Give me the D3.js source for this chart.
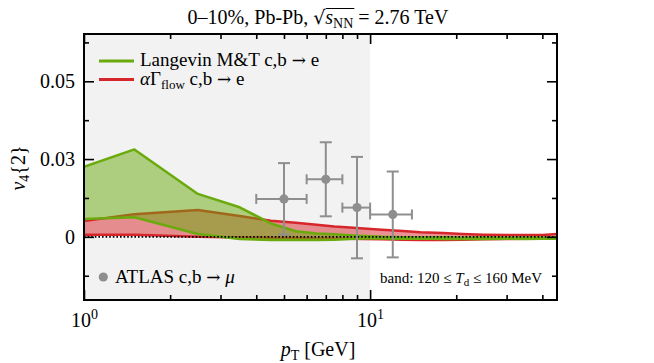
<!DOCTYPE html>
<html>
<head>
<meta charset="utf-8">
<script src="https://cdn.jsdelivr.net/npm/d3@7"></script>
<style>
  body { margin: 0; background: #fff; }
  svg { display: block; font-family: "Liberation Serif", serif; }
</style>
</head>
<body>
<svg width="654" height="363"></svg>
<script>
// model curves, pT grid in GeV
let ptGrid = [1, 1.5, 2.5, 3.5, 4.5, 5.5, 6.5, 7.5, 8.5, 9.5, 11, 13, 15, 18, 21, 25, 30, 35, 40, 45];
let langevinHigh = [0.0225, 0.0281, 0.0138, 0.0095, 0.0043, 0.0018, 0.0011, 0.0008, 0.0005, 0.0003, 0.0000, -0.0001, -0.0002, -0.0001, -0.0003, -0.0002, -0.0003, -0.0002, -0.0003, -0.0002];
let langevinLow = [0.0057, 0.0063, 0.0009, -0.0007, -0.0010, -0.0010, -0.0010, -0.0009, -0.0007, -0.0005, -0.0005, -0.0006, -0.0005, -0.0007, -0.0006, -0.0007, -0.0006, -0.0007, -0.0006, -0.0006];
let flowHigh = [0.0051, 0.0073, 0.0086, 0.0067, 0.0052, 0.0045, 0.0039, 0.0033, 0.0030, 0.0027, 0.0023, 0.0019, 0.0015, 0.0012, 0.0009, 0.0007, 0.0006, 0.0006, 0.0006, 0.0009];
let flowLow = [0.0007, 0.0007, 0.0000, -0.0002, -0.0003, -0.0004, -0.0005, -0.0005, -0.0006, -0.0007, -0.0008, -0.0009, -0.0010, -0.0010, -0.0009, -0.0008, -0.0007, -0.0006, -0.0005, -0.0005];

// ATLAS c,b -> mu
let atlasPt = [5, 7, 9, 12];
let atlasPtLow = [4, 6, 8, 10];
let atlasPtHigh = [6, 8, 10, 14];
let atlasV4 = [0.0122, 0.0185, 0.0094, 0.0072];
let atlasErr = [0.0115, 0.0119, 0.0163, 0.0138];

// ticks
let yMajorTicks = [0, 0.025, 0.05];
let yTickLabels = ["0", "0.03", "0.05"];
let yMinorTicks = [-0.0125, 0.0125, 0.0375, 0.0625];
let xMajorTicks = [1, 10];
let xTickExponents = ["0", "1"];
let xMinorTicks = [2, 3, 4, 5, 6, 7, 8, 9, 20, 30, 40];

let green = "#6aaa0c";
let red = "#d7262b";
let grey = "#8e8e8e";

let svg = d3.select("svg");
let pLeft = 84, pRight = 557, pTop = 34, pBottom = 300;

let x = d3.scaleLog().domain([1, 45]).range([pLeft, pRight]);
let y = d3.scaleLinear().domain([-0.0203, 0.0652]).range([pBottom, pTop]);

svg.append("defs").append("clipPath").attr("id", "plotclip")
  .append("rect")
  .attr("x", pLeft).attr("y", pTop)
  .attr("width", pRight - pLeft).attr("height", pBottom - pTop);

// shaded low pT region
svg.append("rect")
  .attr("x", x(1)).attr("y", pTop)
  .attr("width", x(10) - x(1)).attr("height", pBottom - pTop)
  .attr("fill", "#f2f2f2");

let plot = svg.append("g").attr("clip-path", "url(#plotclip)");

let band = (hi, lo) => d3.area()
  .x((d, i) => x(ptGrid[i]))
  .y0((d, i) => y(lo[i]))
  .y1((d, i) => y(hi[i]));
let edge = vals => d3.line()
  .x((d, i) => x(ptGrid[i]))
  .y((d, i) => y(vals[i]));

function drawBand(hi, lo, color) {
  plot.append("path")
    .attr("d", band(hi, lo)(ptGrid))
    .attr("fill", color)
    .attr("fill-opacity", 0.5);
  [hi, lo].forEach(v => {
    plot.append("path")
      .attr("d", edge(v)(ptGrid))
      .attr("fill", "none")
      .attr("stroke", color)
      .attr("stroke-width", 2.5)
      .attr("stroke-linejoin", "round");
  });
}
drawBand(flowHigh, flowLow, red);
drawBand(langevinHigh, langevinLow, green);

// zero line
plot.append("line")
  .attr("x1", pLeft).attr("x2", pRight)
  .attr("y1", y(0)).attr("y2", y(0))
  .attr("stroke", "#000")
  .attr("stroke-width", 1.6)
  .attr("stroke-dasharray", "1.6,2");

// ATLAS points
let pts = plot.selectAll("g.atlas")
  .data(atlasPt.map((p, i) => ({ p: p, lo: atlasPtLow[i], hi: atlasPtHigh[i], v: atlasV4[i], e: atlasErr[i] })))
  .enter().append("g")
  .attr("stroke", grey)
  .attr("stroke-width", 2);
pts.append("line")
  .attr("x1", d => x(d.lo)).attr("x2", d => x(d.hi))
  .attr("y1", d => y(d.v)).attr("y2", d => y(d.v));
pts.append("line")
  .attr("x1", d => x(d.p)).attr("x2", d => x(d.p))
  .attr("y1", d => y(d.v - d.e)).attr("y2", d => y(d.v + d.e));
[-1, 1].forEach(s => {
  pts.append("line")
    .attr("x1", d => x(d.p) - 6).attr("x2", d => x(d.p) + 6)
    .attr("y1", d => y(d.v + s * d.e)).attr("y2", d => y(d.v + s * d.e));
});
pts.append("line")
  .attr("x1", d => x(d.lo)).attr("x2", d => x(d.lo))
  .attr("y1", d => y(d.v) - 5).attr("y2", d => y(d.v) + 5);
pts.append("line")
  .attr("x1", d => x(d.hi)).attr("x2", d => x(d.hi))
  .attr("y1", d => y(d.v) - 5).attr("y2", d => y(d.v) + 5);
pts.append("circle")
  .attr("cx", d => x(d.p)).attr("cy", d => y(d.v))
  .attr("r", 4.6)
  .attr("fill", grey)
  .attr("stroke", "none");

// axes, ticks pointing inward
function addAxis(axis, tr, vals, size, fmt) {
  let g = svg.append("g")
    .attr("transform", tr)
    .call(axis.tickValues(vals).tickSizeInner(-size).tickSizeOuter(0).tickFormat(fmt));
  g.select(".domain").remove();
  g.attr("font-family", "Liberation Serif").attr("font-size", 20);
  g.selectAll("line").attr("stroke", "#000").attr("stroke-width", 1.6);
  g.selectAll("text").attr("fill", "#000");
  return g;
}
let none = () => "";
let xb = addAxis(d3.axisBottom(x).tickPadding(13), `translate(0,${pBottom})`, xMajorTicks, 10, none);
addAxis(d3.axisBottom(x), `translate(0,${pBottom})`, xMinorTicks, 5, none);
addAxis(d3.axisTop(x), `translate(0,${pTop})`, xMajorTicks, 10, none);
addAxis(d3.axisTop(x), `translate(0,${pTop})`, xMinorTicks, 5, none);
addAxis(d3.axisLeft(y).tickPadding(9), `translate(${pLeft},0)`, yMajorTicks, 10, (d, i) => yTickLabels[i]);
addAxis(d3.axisLeft(y), `translate(${pLeft},0)`, yMinorTicks, 5, none);
addAxis(d3.axisRight(y), `translate(${pRight},0)`, yMajorTicks, 10, none);
addAxis(d3.axisRight(y), `translate(${pRight},0)`, yMinorTicks, 5, none);

xb.selectAll("text").each(function (d, i) {
  let t = d3.select(this);
  t.append("tspan").text("10");
  t.append("tspan").attr("dy", -8).attr("font-size", 14).text(xTickExponents[i]);
});

// frame
svg.append("rect")
  .attr("x", pLeft).attr("y", pTop)
  .attr("width", pRight - pLeft).attr("height", pBottom - pTop)
  .attr("fill", "none")
  .attr("stroke", "#000")
  .attr("stroke-width", 2);

// title
let title = svg.append("text")
  .attr("x", 318).attr("y", 24)
  .attr("text-anchor", "middle")
  .attr("font-size", 20);
title.append("tspan").text("0–10%, Pb-Pb, ");
let rad = title.append("tspan").attr("font-family", "DejaVu Serif").attr("font-size", 19).text("√");
title.append("tspan").attr("font-style", "italic").text("s");
let nn = title.append("tspan").attr("font-size", 14).attr("dy", 4).text("NN");
title.append("tspan").attr("dy", -4).text(" = 2.76 TeV");
let rb = rad.node().getBBox(), nb = nn.node().getBBox();
svg.append("line")
  .attr("x1", rb.x + rb.width - 0.5).attr("x2", nb.x + nb.width + 1)
  .attr("y1", rb.y + 2.5).attr("y2", rb.y + 2.5)
  .attr("stroke", "#000").attr("stroke-width", 1);

// arrow glyph in a font that has a proper one
let arrow = t => t.append("tspan").attr("font-family", "DejaVu Serif").attr("font-size", 17).text("→");

// legend
let legend = [
  { color: green, y: 61 },
  { color: red, y: 79.5 }
];
legend.forEach(l => {
  svg.append("line")
    .attr("x1", 99).attr("x2", 134)
    .attr("y1", l.y).attr("y2", l.y)
    .attr("stroke", l.color).attr("stroke-width", 3);
});
let l1 = svg.append("text")
  .attr("x", 140).attr("y", 66)
  .attr("font-size", 19);
l1.append("tspan").text("Langevin M&T c,b ");
arrow(l1);
l1.append("tspan").text(" e");
let l2 = svg.append("text")
  .attr("x", 140).attr("y", 85)
  .attr("font-size", 19);
l2.append("tspan").attr("font-style", "italic").text("α");
l2.append("tspan").text("Γ");
l2.append("tspan").attr("font-size", 13).attr("dy", 4).text("flow");
l2.append("tspan").attr("dy", -4).text(" c,b ");
arrow(l2);
l2.append("tspan").text(" e");

svg.append("circle")
  .attr("cx", 103.3).attr("cy", 277)
  .attr("r", 4.6)
  .attr("fill", grey);
let l3 = svg.append("text")
  .attr("x", 115).attr("y", 283)
  .attr("font-size", 19);
l3.append("tspan").text("ATLAS c,b ");
arrow(l3);
l3.append("tspan").text(" ");
l3.append("tspan").attr("font-style", "italic").text("μ");

let note = svg.append("text")
  .attr("x", 542).attr("y", 283)
  .attr("text-anchor", "end")
  .attr("font-size", 15);
note.append("tspan").text("band: 120 ≤ ");
note.append("tspan").attr("font-style", "italic").text("T");
note.append("tspan").attr("font-size", 11).attr("dy", 3).text("d");
note.append("tspan").attr("dy", -3).text(" ≤ 160 MeV");

// axis labels
let xl = svg.append("text")
  .attr("x", 318).attr("y", 356)
  .attr("text-anchor", "middle")
  .attr("font-size", 20);
xl.append("tspan").attr("font-style", "italic").text("p");
xl.append("tspan").attr("font-size", 14).attr("dy", 4).text("T");
xl.append("tspan").attr("dy", -4).text(" [GeV]");

let yl = svg.append("text")
  .attr("transform", "translate(25,168) rotate(-90)")
  .attr("text-anchor", "middle")
  .attr("font-size", 20);
yl.append("tspan").attr("font-style", "italic").text("v");
yl.append("tspan").attr("font-size", 14).attr("dy", 4).text("4");
yl.append("tspan").attr("dy", -4).text("{2}");
</script>
</body>
</html>
